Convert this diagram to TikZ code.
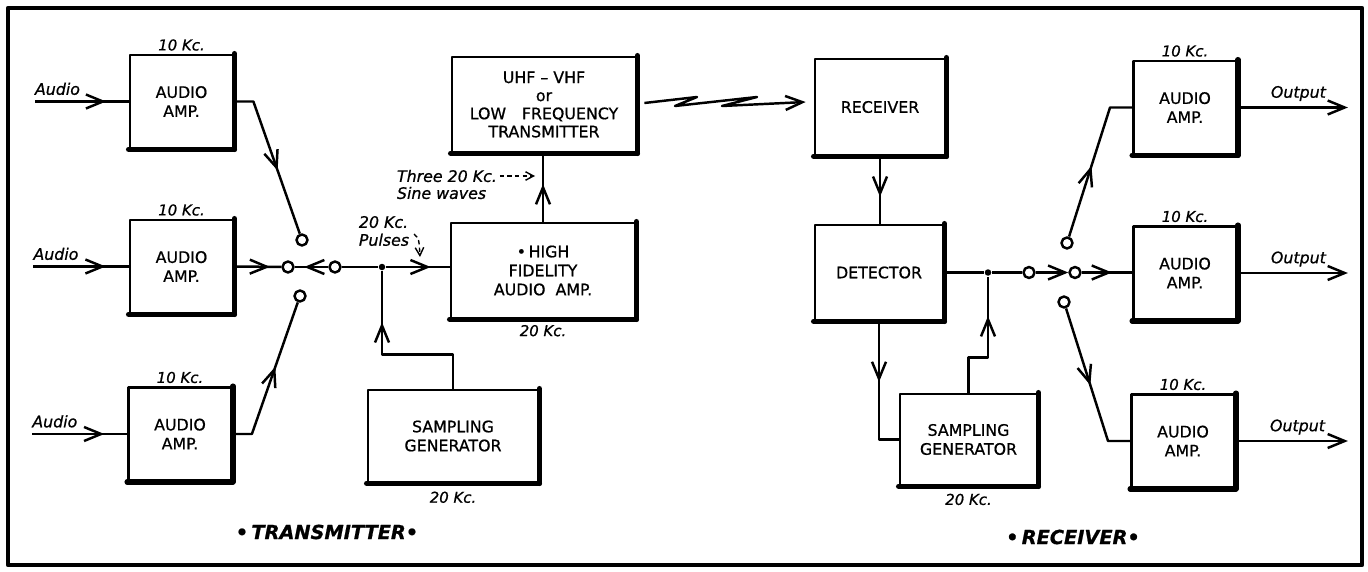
\documentclass[tikz,border=0pt]{standalone}
\usepackage{fontspec}
\setmainfont{DejaVu Sans}[FakeBold=0.8]
\usepackage{tikz}
\usetikzlibrary{arrows.meta,positioning,calc,decorations.markings}

\tikzset{
  mybarb/.tip={Straight Barb[length=3.4mm,width=2.8mm]},
  smallbarb/.tip={Straight Barb[length=1.6mm,width=1.7mm]},
  shadowedge/.style={draw,line width=3pt,line cap=round},
  blockbox/.style={draw,line width=1.6pt,align=center,inner sep=2pt,
    font=\fontsize{9}{10.8}\selectfont,
    append after command={
      (\tikzlastnode.north east) edge[shadowedge] (\tikzlastnode.south east)
      (\tikzlastnode.south east) edge[shadowedge] (\tikzlastnode.south west)}},
  ampbox/.style={blockbox,minimum width=2.06cm,minimum height=1.86cm},
  widebox/.style={blockbox,minimum width=3.68cm,minimum height=1.9cm},
  swcontact/.style={circle,draw,line width=1.4pt,fill=white,
    inner sep=0pt,minimum size=0.22cm},
  jdot/.style={circle,fill,inner sep=0pt,minimum size=0.13cm},
  kclabel/.style={font=\fontsize{8.5}{10}\selectfont\itshape,inner sep=1pt},
  notelabel/.style={font=\fontsize{9}{10.2}\selectfont\itshape,
    inner sep=1pt,align=left},
  titlelabel/.style={font=\fontsize{11}{13}\selectfont\bfseries\itshape},
  midarrow/.style={postaction={decorate},
    decoration={markings,mark=at position #1 with {\arrow{mybarb}}}},
  midarrow/.default=0.5,
  dashedarrow/.style={line width=0.8pt,dash pattern=on 2.5pt off 1.8pt,
    -{smallbarb[line width=0.8pt]}}
}

\begin{document}
\begin{tikzpicture}[x=0.02cm,y=-0.02cm,line width=1.4pt,line join=round]
    \useasboundingbox (0,0) rectangle (1368,571);
    \draw[line width=2.6pt] (8,8) rectangle (1362,565);

    % transmitter
    \node[ampbox] (ampA) at (181.5,101.5) {AUDIO\\AMP.};
    \node[ampbox] (ampB) at (181.5,266.5) {AUDIO\\AMP.};
    \node[ampbox] (ampC) at (180,434) {AUDIO\\AMP.};
    \node[kclabel,above=0pt of ampA] {10 Kc.};
    \node[kclabel,above=0pt of ampB] {10 Kc.};
    \node[kclabel,above=0pt of ampC] {10 Kc.};
    \node[widebox] (hifi) at (543,270.5)
      {\textbullet\,HIGH\\FIDELITY\\AUDIO\ \ AMP.};
    \node[kclabel,below=1.5pt of hifi] {20 Kc.};
    \node[widebox,font=\fontsize{9}{10.3}\selectfont] (uhf) at (544,104.5)
      {UHF -- VHF\\or\\LOW\quad FREQUENCY\\TRANSMITTER};
    \node[blockbox,minimum width=3.4cm,minimum height=1.84cm]
      (sgT) at (453,436) {SAMPLING\\GENERATOR};
    \node[kclabel,below=3pt of sgT] {20 Kc.};

    \coordinate (inA) at (35,101.5);
    \coordinate (inB) at (33,266.5);
    \coordinate (inC) at (32,434);
    \draw[midarrow=0.76] (inA) -- (ampA.west)
      node[notelabel,pos=0.24,above=2pt] {Audio};
    \draw[midarrow=0.76] (inB) -- (ampB.west)
      node[notelabel,pos=0.24,above=2pt] {Audio};
    \draw[midarrow=0.76] (inC) -- (ampC.west)
      node[notelabel,pos=0.24,above=2pt] {Audio};

    \node[swcontact] (swTa) at (302,240) {};
    \node[swcontact] (swTc) at (288,267) {};
    \node[swcontact] (swTb) at (300,296) {};
    \node[swcontact] (swTr) at (335,267) {};
    \node[jdot] (jT) at (382,267) {};
    \draw[midarrow=0.58] (ampA.east) -- ++(19,0) -- (swTa);
    \draw[midarrow=0.76] (ampB.east) -- (swTc);
    \draw[midarrow=0.57] (ampC.east) -- ++(19,0) -- (swTb);
    \draw[midarrow=0.72] (swTr) -- (swTc);
    \draw (swTr) -- (jT);
    \draw[midarrow=0.7] (jT) -- (hifi.west |- jT);
    \draw[midarrow=0.73] (sgT.north) -- ++(0,-34) -| (jT);
    \draw[midarrow=0.55] (hifi.north) -- (hifi.north |- uhf.south);

    \node[notelabel,anchor=west] (three) at (394,176) {Three 20 Kc.};
    \node[notelabel,anchor=west] (sine) at (394,193) {Sine waves};
    \draw[dashedarrow] (three.east) -- ($(three.east -| hifi.north)+(-8,0)$);
    \node[notelabel] (pulses) at (384,231) {20 Kc.\\Pulses};
    \draw[dashedarrow] ($(pulses.east)+(2,3)$)
      .. controls (419,239) .. (420,257);

    % link
    \node[blockbox,minimum width=2.6cm,minimum height=1.92cm]
      (rcv) at (880,107) {RECEIVER};
    \draw[-{mybarb}] ($(uhf.east)+(7,-1.5)$) -- (697,97) -- (675,106)
      -- (757,97) -- (722,106) -- ($(rcv.west)+(-8,-5)$);

    % receiver
    \node[blockbox,minimum width=2.56cm,minimum height=1.9cm]
      (det) at (879,272.5) {DETECTOR};
    \node[blockbox,minimum width=2.74cm,minimum height=1.82cm]
      (sgR) at (968.5,439.5) {SAMPLING\\GENERATOR};
    \node[kclabel,below=2.5pt of sgR] {20 Kc.};
    \node[ampbox] (ampD) at (1185,107.5) {AUDIO\\AMP.};
    \node[ampbox] (ampE) at (1185,273) {AUDIO\\AMP.};
    \node[ampbox] (ampF) at (1183,441) {AUDIO\\AMP.};
    \node[kclabel,above=0pt of ampD] {10 Kc.};
    \node[kclabel,above=0pt of ampE] {10 Kc.};
    \node[kclabel,above=0pt of ampF] {10 Kc.};

    \node[swcontact] (swRl) at (1029,272.5) {};
    \node[swcontact] (swRc) at (1075,272.5) {};
    \node[swcontact] (swRa) at (1067,243) {};
    \node[swcontact] (swRb) at (1064,302) {};
    \node[jdot] (jR) at (988,272.5) {};
    \draw[midarrow=0.6] (rcv.south) -- (rcv.south |- det.north);
    \draw (det.east) -- (jR) -- (swRl);
    \draw[-{mybarb}] (swRl) -- (swRc);
    \draw[midarrow=0.6] (swRc) -- (ampE.west |- swRc);
    \draw[midarrow=0.47] (swRa) -- (1110,107.5) -- (ampD.west);
    \draw[midarrow=0.5] (swRb) -- (1108,441) -- (ampF.west);
    \draw[midarrow=0.44] (det.south) |- (sgR.west);
    \draw[midarrow=0.71] (sgR.north) -- ++(0,-35) -| (jR);

    \draw[-{mybarb}] (ampD.east) -- ++(110,0)
      node[notelabel,pos=0.55,above=2pt] {Output};
    \draw[-{mybarb}] (ampE.east) -- ++(110,0)
      node[notelabel,pos=0.55,above=2pt] {Output};
    \draw[-{mybarb}] (ampF.east) -- ++(112,0)
      node[notelabel,pos=0.55,above=2pt] {Output};

    \node[titlelabel] at (327,532) {\textbullet\,TRANSMITTER\textbullet};
    \node[titlelabel] at (1073,537) {\textbullet\,RECEIVER\textbullet};
\end{tikzpicture}
\end{document}
